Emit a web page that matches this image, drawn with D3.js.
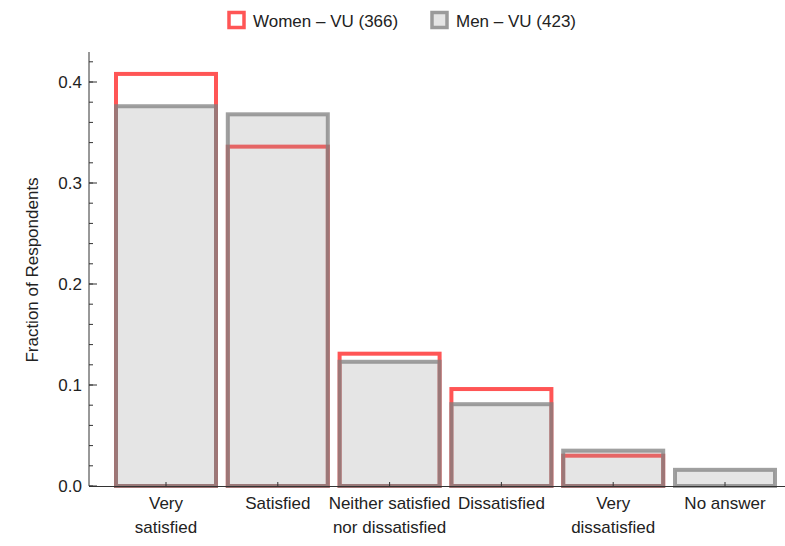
<!DOCTYPE html>
<html><head><meta charset="utf-8">
<script src="https://cdn.jsdelivr.net/npm/d3@7"></script>
<style>body{margin:0;background:#fff}svg{display:block;font-family:"Liberation Sans",Arial,sans-serif}</style>
</head><body><svg id="c" width="785" height="546"></svg>
<script>
const categories = [["Very","satisfied"],["Satisfied"],["Neither satisfied","nor dissatisfied"],["Dissatisfied"],["Very","dissatisfied"],["No answer"]];
const women = [0.408, 0.336, 0.131, 0.096, 0.030, 0.0];
const men = [0.376, 0.368, 0.123, 0.081, 0.035, 0.016];
const seriesNames = ["Women – VU (366)", "Men – VU (423)"];
const yTicks = [0, 0.1, 0.2, 0.3, 0.4];

const svg = d3.select("#c");
const x = d3.scaleLinear().domain([0, 5]).range([166, 725]);
const y = d3.scaleLinear().domain([0, 0.1]).range([486, 385]);
const bw = 100;
const fs = 17;

// women bars
svg.append("g").selectAll("rect").data(women).join("rect")
  .attr("x", (d,i)=>x(i)-bw/2).attr("y", d=>y(d))
  .attr("width", bw).attr("height", d=>y(0)-y(d))
  .attr("fill", "#fff").attr("stroke", "#ff5555").attr("stroke-width", 4);
// men bars
svg.append("g").selectAll("rect").data(men).join("rect")
  .attr("x", (d,i)=>x(i)-bw/2).attr("y", d=>y(d))
  .attr("width", bw).attr("height", d=>y(0)-y(d))
  .attr("fill", "#999").attr("fill-opacity", 0.25)
  .attr("stroke", "#808080").attr("stroke-opacity", 0.75).attr("stroke-width", 4);

// y axis
const minor = d3.range(0, 0.43, 0.02);
const ya = svg.append("g").attr("stroke", "#333");
ya.append("line").attr("x1", 89).attr("x2", 89).attr("y1", 52).attr("y2", 486).attr("stroke-width", 1);
ya.selectAll("line.mn").data(minor).join("line").attr("class","mn")
  .attr("x1", 89).attr("x2", 93).attr("y1", d=>y(d)).attr("y2", d=>y(d));
ya.selectAll("line.mj").data(yTicks).join("line").attr("class","mj")
  .attr("x1", 89).attr("x2", 97).attr("y1", d=>y(d)).attr("y2", d=>y(d));
svg.append("g").selectAll("text").data(yTicks).join("text")
  .attr("x", 82).attr("y", d=>y(d)+6).attr("text-anchor", "end")
  .attr("font-size", fs).attr("fill", "#222").text(d=>d.toFixed(1));
svg.append("text").attr("transform", "translate(38,270) rotate(-90)")
  .attr("text-anchor", "middle").attr("font-size", fs).attr("fill", "#222")
  .text("Fraction of Respondents");

// x axis
svg.append("line").attr("x1", 89).attr("x2", 785).attr("y1", 486.5).attr("y2", 486.5).attr("stroke", "#333");
svg.append("g").selectAll("line").data(categories).join("line")
  .attr("x1", (d,i)=>x(i)).attr("x2", (d,i)=>x(i)).attr("y1", 486).attr("y2", 482).attr("stroke", "#333");
const xl = svg.append("g").selectAll("text").data(categories).join("text")
  .attr("text-anchor", "middle").attr("font-size", fs).attr("fill", "#222");
xl.selectAll("tspan").data((d,i)=>d.map((t,j)=>({t,j,i}))).join("tspan")
  .attr("x", d=>x(d.i)).attr("y", d=>509 + d.j*24).text(d=>d.t);

// legend
const lg = svg.append("g");
lg.append("rect").attr("x", 229).attr("y", 12.5).attr("width", 15).attr("height", 15)
  .attr("fill", "#fff").attr("stroke", "#ff5555").attr("stroke-width", 3.5);
lg.append("text").attr("x", 253).attr("y", 27).attr("font-size", fs).attr("fill", "#222").text(seriesNames[0]);
lg.append("rect").attr("x", 432).attr("y", 12.5).attr("width", 15).attr("height", 15)
  .attr("fill", "#e4e4e4").attr("stroke", "#9a9a9a").attr("stroke-width", 3.5);
lg.append("text").attr("x", 456).attr("y", 27).attr("font-size", fs).attr("fill", "#222").text(seriesNames[1]);
</script></body></html>
